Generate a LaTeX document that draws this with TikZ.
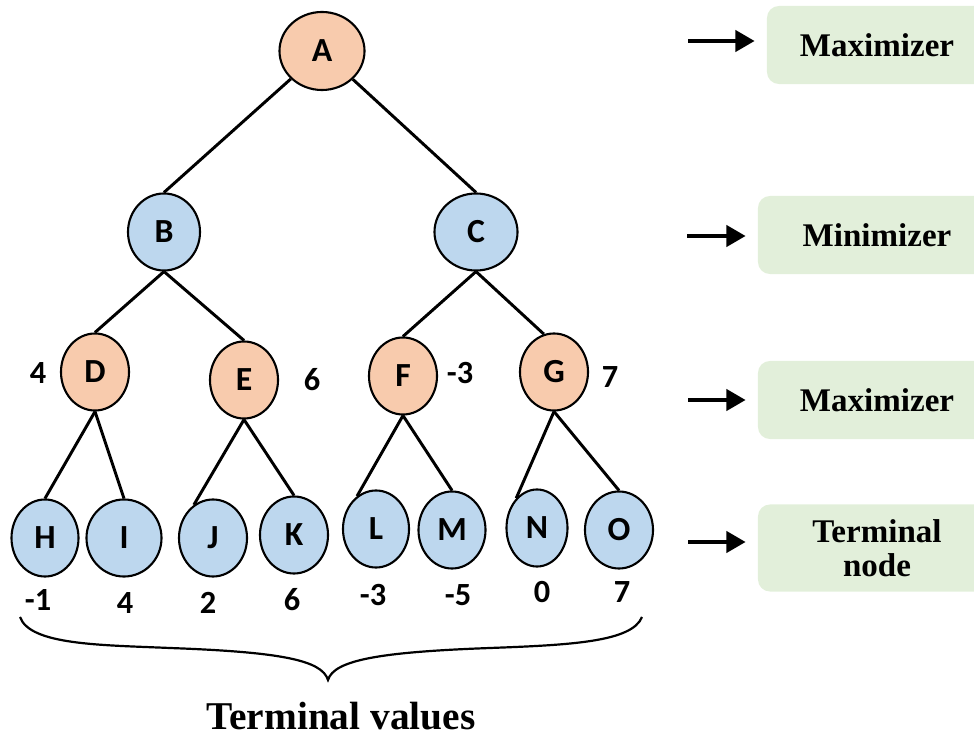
\documentclass[tikz,border=0pt]{standalone}
\usepackage{fontspec}
\setmainfont{Liberation Serif}
\newfontfamily\treefont{Carlito}
\usetikzlibrary{arrows.meta}
\usetikzlibrary{shapes.geometric}
\usetikzlibrary{positioning}
\definecolor{maxpeach}{HTML}{F8CBAD}
\definecolor{minblue}{HTML}{BDD7EE}
\definecolor{rolegreen}{HTML}{E2EFDA}

\tikzset{
    treenode/.style={ellipse, draw=black, line width=1.5pt, inner sep=0pt,
        minimum height=19.25mm, minimum width=17mm,
        font=\treefont\bfseries\fontsize{24}{28}\selectfont},
    maxnode/.style={treenode, fill=maxpeach},
    minnode/.style={treenode, fill=minblue},
    val/.style={inner sep=0pt, font=\treefont\bfseries\fontsize{23}{27}\selectfont},
    branch/.style={line width=2.1pt},
    rolebox/.style={fill=rolegreen, rounded corners=3mm, minimum height=19.5mm,
        inner sep=0pt, align=center, font=\bfseries\fontsize{23.5}{24.5}\selectfont},
    rolearrow/.style={line width=1.1mm, -{Triangle[length=4.8mm,width=5.2mm]}, shorten >=3mm},
}

\begin{document}
\begin{tikzpicture}[x=0.025cm, y=-0.025cm] % Koordinaten in Pixeln
    \useasboundingbox (0,0) rectangle (974,740);

    % Wurzel und erste Ebene
    \node[maxnode, minimum width=21.25mm, minimum height=19.5mm] (A) at (322,51) {A};
    \node[minnode, minimum width=18mm] (B) at (164,232) {B};
    \node[minnode, minimum width=20.75mm] (C) at (476,232) {C};

    % Maximierer-Ebene
    \foreach \n/\x/\y in {D/95/372, E/244/380, F/403/376, G/554/372} {
        \node[maxnode] (\n) at (\x,\y) {\n};
    }

    % Blaetter mit eigener Breite
    \foreach \n/\x/\y/\w in {H/45/538/16.75, I/124/538/18.75, J/213/538/17, K/294/535/17,
                             L/376/529/16.5, M/452/530/16.75, N/537/528/15.25, O/619/530/17} {
        \node[minnode, minimum width=\w mm] (\n) at (\x,\y) {\n};
    }

    % Kanten
    \draw[branch] (A) -- (B.north);
    \draw[branch] (A) -- (C.north);
    \foreach \p/\c in {B/D, B/E, C/F, D/H, D/I, E/K, F/M, G/O} {
        \draw[branch] (\p.south) -- (\c.north);
    }
    \draw[branch] (C.south) -- (G.105);
    \draw[branch] (E.south) -- (J.120);
    \draw[branch] (F.south) -- (L.120);
    \draw[branch] (G.south) -- (N.125);

    % Werte der Maximierer
    \foreach \n/\v/\x/\y in {D/4/38/373, E/6/312/380, F/-3/460/373, G/7/610/377} {
        \node[val] (v\n) at (\x,\y) {\v};
    }

    % Endwerte unter den Blaettern
    \foreach \n/\v/\x/\y in {H/-1/38/600, I/4/125/603, J/2/208/603, K/6/292/600,
                             L/-3/373/595, M/-5/458/595, N/0/542/592, O/7/622/592} {
        \node[val] (v\n) at (\x,\y) {\v};
    }

    % Klammer und Beschriftung
    \draw[line width=0.55mm] (20,617) .. controls (30,645) and (100,645) .. (170,648)
        .. controls (280,652) and (322,660) .. (328,680)
        .. controls (334,660) and (380,652) .. (490,648)
        .. controls (570,645) and (632,642) .. (642,617);
    \node[inner sep=0pt, font=\bfseries\fontsize{28}{30}\selectfont] (tvals) at (341,716) {Terminal values};

    % Rollen rechts
    \node[rolebox, minimum width=55mm] (role1) at (877,45) {Maximizer};
    \node[rolebox, minimum width=59.5mm] (role2) at (877,235) {Minimizer};
    \node[rolebox, minimum width=59.5mm] (role3) at (877,400) {Maximizer};
    \node[rolebox, minimum width=59.5mm, minimum height=21.75mm] (role4) at (877,548) {Terminal\\node};

    \coordinate (r1) at (688,41);
    \coordinate (r2) at (687,236);
    \coordinate (r3) at (688,400);
    \coordinate (r4) at (688,542);
    \foreach \i in {1,2,3,4} {
        \draw[rolearrow] (r\i) -- (r\i -| role\i.west);
    }
\end{tikzpicture}
\end{document}
